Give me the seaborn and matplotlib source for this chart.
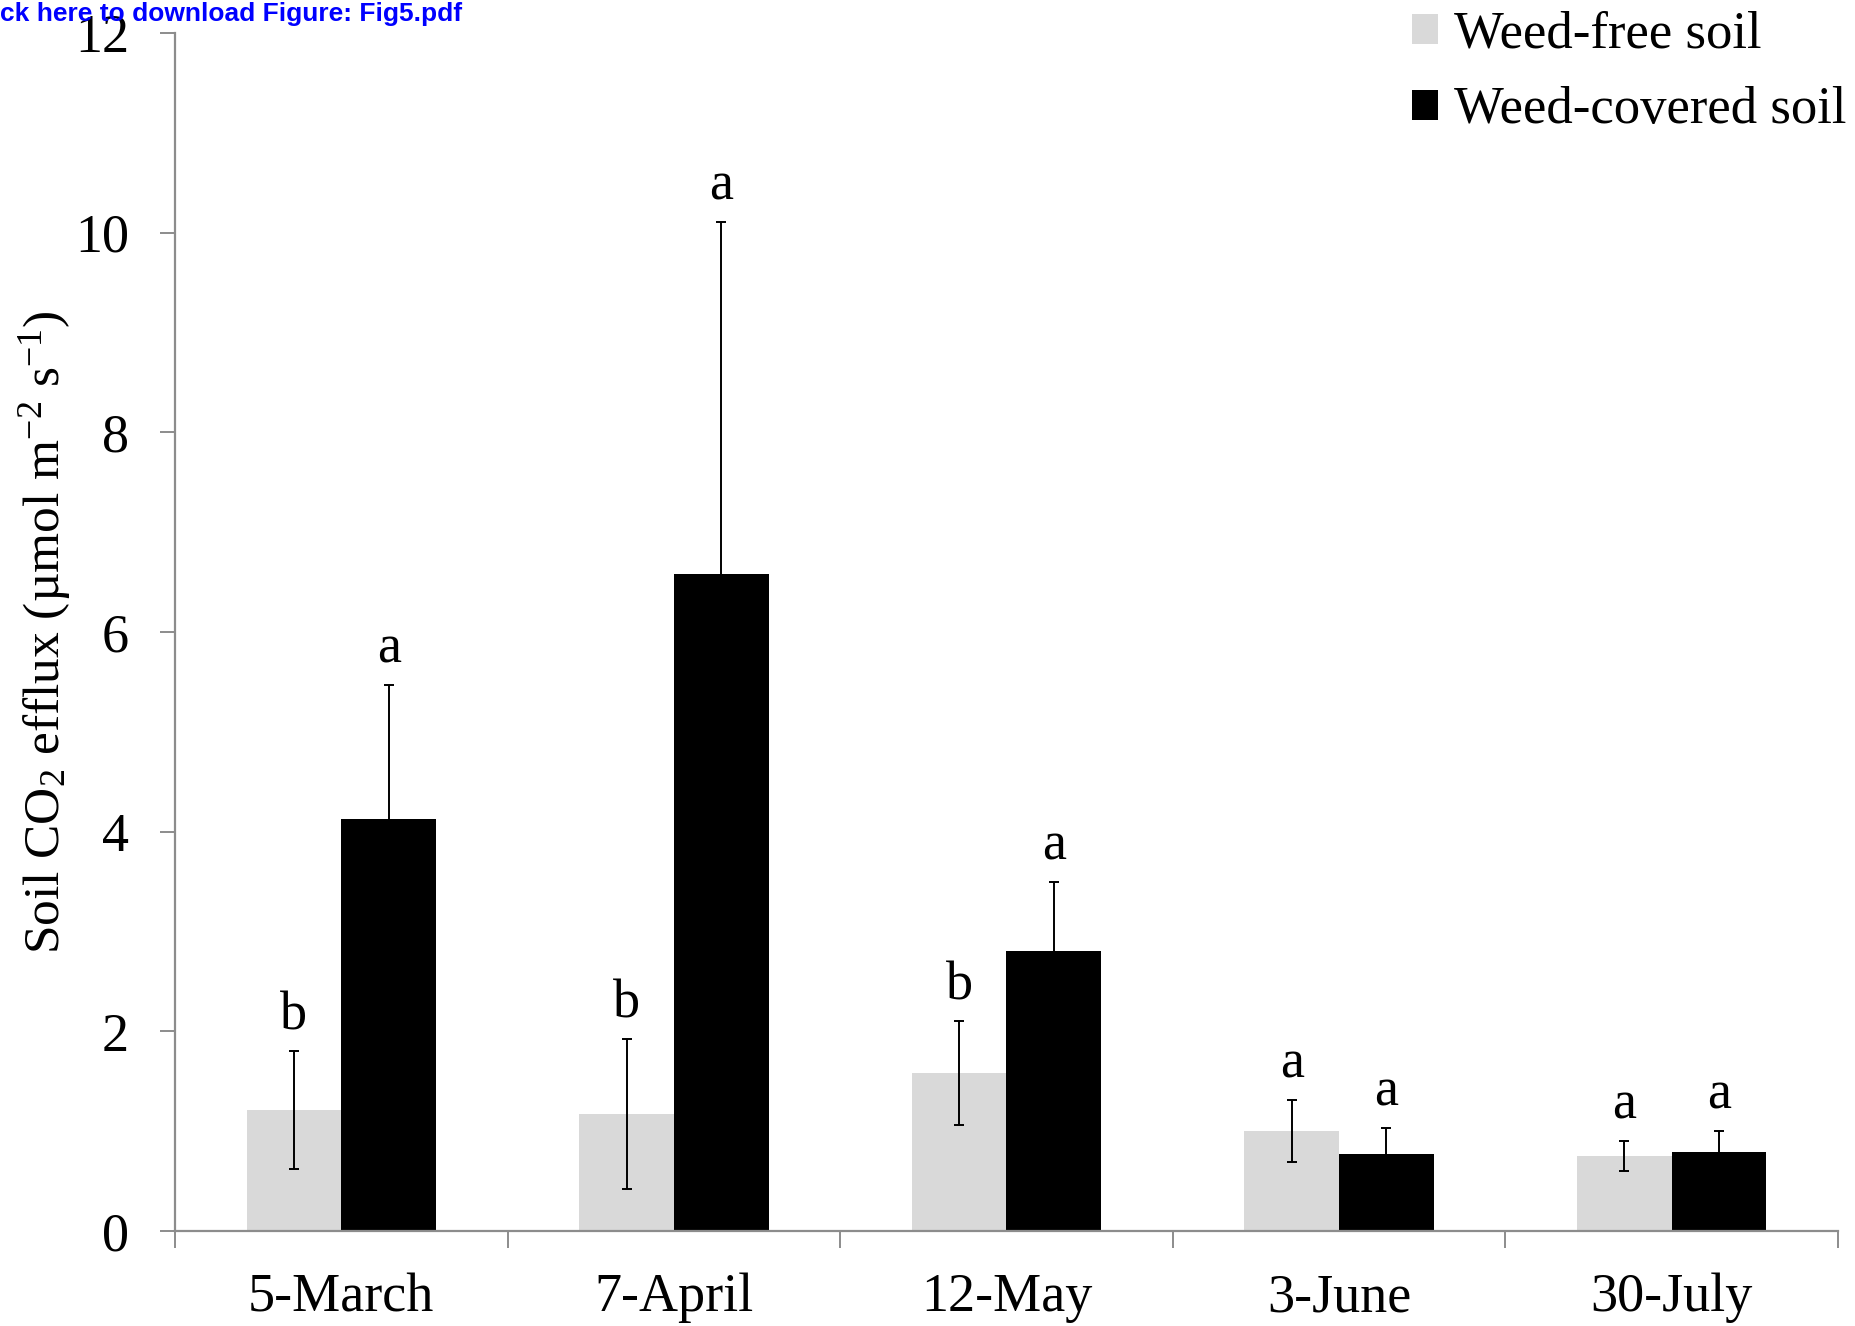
import matplotlib
matplotlib.use("Agg")
import matplotlib.pyplot as plt
import seaborn as sns
import pandas as pd
import numpy as np

# Sampling dates and treatment groups
dates = ["5-March", "7-April", "12-May", "3-June", "30-July"]
treatments = ["Weed-free soil", "Weed-covered soil"]

# Mean soil CO2 efflux and error (umol m-2 s-1)
free_mean = [1.21, 1.17, 1.58, 1.00, 0.75]
free_err = [0.59, 0.75, 0.52, 0.31, 0.15]
covered_mean = [4.13, 6.58, 2.80, 0.77, 0.79]
covered_err = [1.34, 3.53, 0.70, 0.26, 0.21]

# Significance letters
free_letters = ["b", "b", "b", "a", "a"]
covered_letters = ["a", "a", "a", "a", "a"]

sns.set_style("white")
plt.rcParams["font.family"] = ["Liberation Serif", "DejaVu Serif"]
plt.rcParams["mathtext.fontset"] = "custom"
plt.rcParams["mathtext.rm"] = "Liberation Serif"
plt.rcParams["mathtext.it"] = "Liberation Serif:italic"
plt.rcParams["text.color"] = "black"
plt.rcParams["axes.labelcolor"] = "black"
plt.rcParams["xtick.labelcolor"] = "black"
plt.rcParams["ytick.labelcolor"] = "black"

df = pd.DataFrame({
    "date": dates * 2,
    "treatment": [treatments[0]] * len(dates) + [treatments[1]] * len(dates),
    "efflux": free_mean + covered_mean,
})

fig = plt.figure(figsize=(18.56, 13.26), dpi=100)
ax = fig.add_axes([175 / 1856, 1 - 1231 / 1326, (1838 - 175) / 1856, (1231 - 33) / 1326])

sns.barplot(data=df, x="date", y="efflux", hue="treatment", order=dates,
            hue_order=treatments, palette=["#D9D9D9", "#000000"],
            width=0.57, errorbar=None, saturation=1, ax=ax, legend=False,
            linewidth=0)

errs = [free_err, covered_err]
means = [free_mean, covered_mean]
letters = [free_letters, covered_letters]
bar_groups = list(ax.containers)
for k, cont in enumerate(bar_groups):
    xs = [b.get_x() + b.get_width() / 2 for b in cont.patches]
    ax.errorbar(xs, means[k], yerr=errs[k], fmt="none", ecolor="black",
                elinewidth=1.4, capsize=3.8, capthick=1.4, zorder=5)
    for x, m, e, lab in zip(xs, means[k], errs[k], letters[k]):
        ax.annotate(lab, (x, m + e), xytext=(0, 16), textcoords="offset points",
                    ha="center", va="baseline", fontsize=39, color="black")

ax.set_ylim(0, 12)
ax.set_xlim(-0.5, len(dates) - 0.5)
ax.set_yticks(np.arange(0, 13, 2))
ax.tick_params(axis="y", labelsize=39, length=11, width=1.4, color="#8C8C8C",
               direction="out", pad=22, left=True, labelcolor="black")
ax.set_xticks(range(len(dates)))
ax.set_xticklabels(dates)
ax.tick_params(axis="x", which="major", labelsize=39, length=0, pad=30,
               labelcolor="black")
ax.set_xticks(np.arange(-0.5, len(dates), 1.0), minor=True)
ax.tick_params(axis="x", which="minor", length=12, width=1.4, color="#8C8C8C",
               direction="out", bottom=True)
ax.set_xlabel("")

for side in ["top", "right"]:
    ax.spines[side].set_visible(False)
for side in ["left", "bottom"]:
    ax.spines[side].set_color("#8C8C8C")
    ax.spines[side].set_linewidth(1.6)

ax.set_ylabel(r"Soil CO$_2$ efflux (µmol m$^{-2}$ s$^{-1}$)", fontsize=37,
              color="black")
ax.yaxis.label.set_verticalalignment("center")
ax.yaxis.set_label_coords(-0.078, 0.5)

handles = [plt.Rectangle((0, 0), 1, 1, facecolor=c, edgecolor="none")
           for c in ["#D9D9D9", "#000000"]]
fig.legend(handles, treatments, loc="upper left",
           bbox_to_anchor=(1412 / 1856, 1 - 11 / 1326), frameon=False,
           fontsize=38, handlelength=0.5, handleheight=0.5, handletextpad=0.3,
           labelspacing=0.52, borderpad=0, borderaxespad=0)

fig.text(0.0, 1 - 2 / 1326, "ck here to download Figure: Fig5.pdf",
         color="#0000FF", fontweight="bold", fontsize=19,
         family=["Liberation Sans", "DejaVu Sans"], ha="left", va="top")

fig.savefig("out.png", dpi=100)
